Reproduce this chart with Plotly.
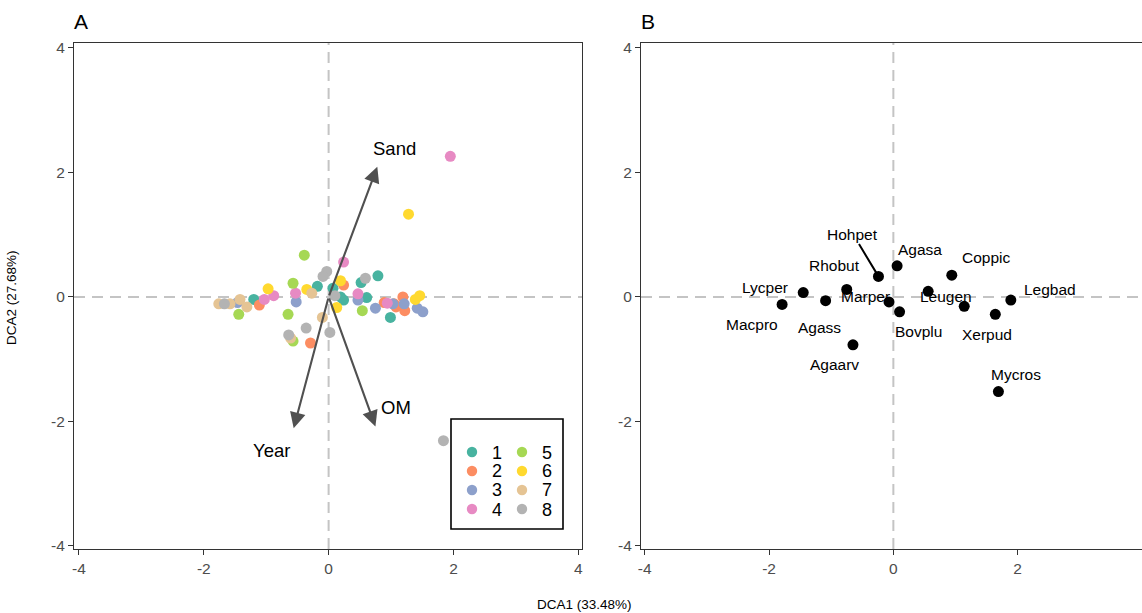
import plotly.graph_objects as go

W, H = 1142, 613
FONT = "Liberation Sans, Arial, sans-serif"

# ---------------- data: panel A (sites) ----------------
groups = ["1", "2", "3", "4", "5", "6", "7", "8"]
colors = ["#48B3A0", "#FC8D62", "#8DA0CB", "#E78AC3", "#A6D854", "#FFD92F", "#E5C494", "#B3B3B3"]

g1_x = [-1.20, -0.18, 0.07, 0.19, 0.24, 0.52, 0.61, 0.79, 0.99]
g1_y = [-0.04, 0.17, 0.14, 0.00, -0.05, 0.23, -0.01, 0.34, -0.33]
g2_x = [-1.11, -0.29, 0.24, 0.89, 1.05, 1.19, 1.22, 1.08]
g2_y = [-0.13, -0.74, 0.19, -0.09, -0.11, 0.00, -0.22, -0.16]
g3_x = [-1.46, -0.52, 0.47, 0.75, 1.03, 1.21, 1.42, 1.51]
g3_y = [-0.09, -0.08, -0.05, -0.18, -0.11, -0.11, -0.18, -0.24]
g4_x = [1.95, 0.24, -0.53, -0.88, -1.03, 0.47, 0.94]
g4_y = [2.26, 0.56, 0.06, 0.02, -0.04, 0.05, -0.10]
g5_x = [-0.39, -0.57, -0.65, -1.44, 0.54, -0.57]
g5_y = [0.67, 0.22, -0.28, -0.28, -0.22, -0.71]
g6_x = [1.28, 0.19, -0.35, -0.97, 0.13, 1.39, 1.46]
g6_y = [1.33, 0.26, 0.12, 0.13, -0.17, -0.04, 0.02]
g7_x = [-1.76, -1.58, -1.42, -1.31, -0.27, -0.10, -0.61]
g7_y = [-0.11, -0.11, -0.04, -0.16, 0.06, -0.33, -0.66]
g8_x = [-1.67, 1.84, -0.03, -0.09, 0.59, 0.10, -0.36, -0.64, 0.02]
g8_y = [-0.11, -2.31, 0.41, 0.33, 0.30, 0.02, -0.50, -0.61, -0.57]

group_x = [g1_x, g2_x, g3_x, g4_x, g5_x, g6_x, g7_x, g8_x]
group_y = [g1_y, g2_y, g3_y, g4_y, g5_y, g6_y, g7_y, g8_y]

# environmental vectors
env_names = ["Sand", "OM", "Year"]
env_x = [0.78, 0.75, -0.56]
env_y = [2.09, -2.08, -2.11]
env_lab_x = [1.05, 1.08, -0.91]
env_lab_y = [2.38, -1.78, -2.47]

# ---------------- data: panel B (species) ----------------
species = ["Hohpet", "Agasa", "Coppic", "Rhobut", "Lycper", "Macpro", "Agass",
           "Marper", "Bovplu", "Leugen", "", "Xerpud", "Legbad", "Agaarv", "Mycros"]
sp_x = [-0.24, 0.06, 0.94, -0.75, -1.45, -1.79, -1.09, -0.07, 0.10, 0.56, 1.14, 1.64, 1.89, -0.65, 1.69]
sp_y = [0.33, 0.50, 0.35, 0.12, 0.07, -0.12, -0.06, -0.08, -0.24, 0.09, -0.15, -0.28, -0.05, -0.77, -1.52]
sp_lab_x = [-0.65, 0.43, 1.49, -0.94, -2.07, -2.27, -1.19, -0.45, 0.40, 0.84, None, 1.51, 2.52, -0.94, 1.98]
sp_lab_y = [1.01, 0.77, 0.63, 0.51, 0.15, -0.45, -0.49, 0.00, -0.56, 0.00, None, -0.61, 0.12, -1.09, -1.24]

tick_vals = [-4, -2, 0, 2, 4]
tick_text = ["-4", "-2", "0", "2", "4"]
x_title = "DCA1 (33.48%)"
y_title = "DCA2 (27.68%)"

fig = go.Figure()

for g, c, xs, ys in zip(groups, colors, group_x, group_y):
    fig.add_trace(go.Scatter(x=xs, y=ys, mode="markers", name=g,
                             marker=dict(color=c, size=11, line=dict(width=0)),
                             xaxis="x", yaxis="y", showlegend=False))

fig.add_trace(go.Scatter(x=sp_x, y=sp_y, mode="markers", text=species,
                         marker=dict(color="black", size=11, line=dict(width=0)),
                         xaxis="x2", yaxis="y2", showlegend=False))

shapes = []
for xr, yr in [("x", "y"), ("x2", "y2")]:
    shapes.append(dict(type="line", xref=xr, yref=yr + " domain", x0=0, x1=0, y0=0, y1=1,
                       line=dict(color="#C4C4C4", width=2, dash="11px,7px"), layer="below"))
    shapes.append(dict(type="line", xref=xr + " domain", yref=yr, x0=0, x1=1, y0=0, y1=0,
                       line=dict(color="#C4C4C4", width=2, dash="11px,7px"), layer="below"))

annotations = []
for nm, ex, ey, lx, ly in zip(env_names, env_x, env_y, env_lab_x, env_lab_y):
    annotations.append(dict(x=ex, y=ey, ax=0, ay=0, xref="x", yref="y", axref="x", ayref="y",
                            text="", showarrow=True, arrowhead=2, arrowsize=1.5,
                            arrowwidth=2.1, arrowcolor="#505050", standoff=0))
    annotations.append(dict(x=lx, y=ly, xref="x", yref="y", text=nm, showarrow=False,
                            xanchor="center", yanchor="middle",
                            font=dict(family=FONT, size=18.5, color="black")))

for nm, px_, py_, lx, ly in zip(species, sp_x, sp_y, sp_lab_x, sp_lab_y):
    if not nm:
        continue
    if nm == "Hohpet":
        annotations.append(dict(x=px_, y=py_, ax=lx, ay=ly, xref="x2", yref="y2",
                                axref="x2", ayref="y2", text=nm, showarrow=True,
                                arrowhead=0, arrowwidth=2, arrowcolor="black", standoff=0,
                                font=dict(family=FONT, size=15.5, color="black")))
    else:
        annotations.append(dict(x=lx, y=ly, xref="x2", yref="y2", text=nm, showarrow=False,
                                xanchor="center", yanchor="middle",
                                font=dict(family=FONT, size=15.5, color="black")))


def paper_text(px, py, txt, size, angle=0):
    return dict(x=px / W, y=1 - py / H, xref="paper", yref="paper", text=txt,
                xanchor="center", yanchor="middle", textangle=angle, showarrow=False,
                font=dict(family=FONT, size=size, color="black"))


annotations.append(paper_text(81, 21, "A", 21))
annotations.append(paper_text(648, 21, "B", 21))
annotations.append(paper_text(584, 604, x_title, 13.5))
annotations.append(paper_text(11, 298, y_title, 13.5, -90))

# legend (drawn manually, 2 columns)
shapes.append(dict(type="rect", xref="paper", yref="paper", x0=451 / W, x1=563 / W,
                   y0=1 - 529 / H, y1=1 - 419 / H, line=dict(color="black", width=1.6),
                   fillcolor="white", layer="above"))
for i, (g, c) in enumerate(zip(groups, colors)):
    col, row = divmod(i, 4)
    cx = 472 + col * 50
    cy = 452 + row * 19
    r = 5.2
    shapes.append(dict(type="circle", xref="paper", yref="paper",
                       x0=(cx - r) / W, x1=(cx + r) / W, y0=1 - (cy + r) / H, y1=1 - (cy - r) / H,
                       fillcolor=c, line=dict(width=0), layer="above"))
    annotations.append(paper_text(cx + 25, cy + 0.5, g, 18))

axis_common = dict(showgrid=False, zeroline=False, showline=True, linecolor="#333333",
                   linewidth=1.2, ticks="outside", ticklen=5, tickwidth=1.2,
                   tickcolor="#333333", tickvals=tick_vals, ticktext=tick_text, automargin=False,
                   tickfont=dict(family=FONT, size=15.5, color="#4D4D4D"))

ydom = [1 - 549 / H, 1 - 43 / H]
fig.update_layout(
    width=W, height=H,
    margin=dict(l=0, r=0, t=0, b=0, pad=0),
    paper_bgcolor="white", plot_bgcolor="white",
    xaxis=dict(domain=[74 / W, 582 / W], range=[-4.08, 4.06], anchor="y", mirror=True, **axis_common),
    yaxis=dict(domain=ydom, range=[-4.05, 4.08], anchor="x", mirror=True, **axis_common),
    xaxis2=dict(domain=[641 / W, 1.0], range=[-4.06, 4.0], anchor="y2", mirror=True, **axis_common),
    yaxis2=dict(domain=ydom, range=[-4.05, 4.08], anchor="x2", mirror=False, **axis_common),
    shapes=shapes,
    annotations=annotations,
    showlegend=False,
)

fig.write_html("out.html", config={"displayModeBar": False, "responsive": False},
               post_script="document.body.style.margin='0';document.body.style.overflow='hidden';")
